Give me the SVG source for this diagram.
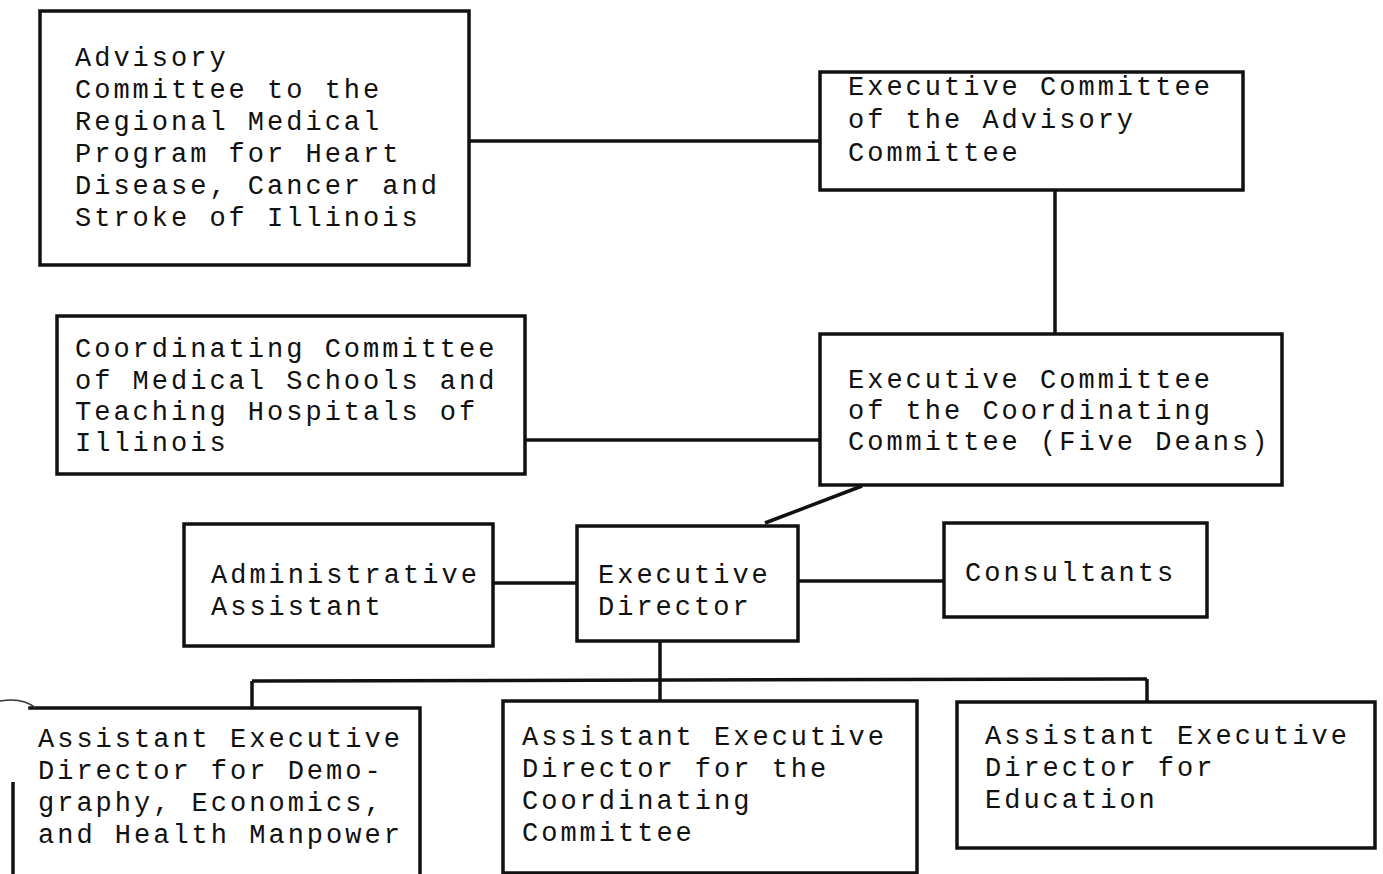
<svg xmlns="http://www.w3.org/2000/svg" width="1383" height="874" viewBox="0 0 1383 874">
<defs>
<style>
.box{fill:none;stroke:#111;stroke-width:3.5;stroke-linecap:square}
.ln{fill:none;stroke:#111;stroke-width:3.5}
.t{font-family:"Liberation Mono","Courier New",monospace;font-size:27px;letter-spacing:3px;fill:#111}
</style>
</defs>
<rect width="1383" height="874" fill="#fff"/>
<g id="connectors">
<line class="ln" x1="469" y1="141" x2="820" y2="141"/>
<line class="ln" x1="1055" y1="190" x2="1055" y2="334"/>
<line class="ln" x1="525" y1="440" x2="820" y2="440"/>
<line class="ln" x1="862" y1="486" x2="765" y2="523"/>
<line class="ln" x1="493" y1="583" x2="577" y2="583"/>
<line class="ln" x1="798" y1="581" x2="944" y2="581"/>
<line class="ln" x1="660" y1="641" x2="660" y2="701"/>
<line class="ln" x1="252" y1="681" x2="1147" y2="679"/>
<line class="ln" x1="252" y1="681" x2="252" y2="708"/>
<line class="ln" x1="1147" y1="679" x2="1147" y2="702"/>
</g>
<g id="advisory">
<rect class="box" x="40" y="11" width="429" height="254"/>
<text class="t" x="75" y="66">Advisory</text>
<text class="t" x="75" y="98">Committee to the</text>
<text class="t" x="75" y="130">Regional Medical</text>
<text class="t" x="75" y="162">Program for Heart</text>
<text class="t" x="75" y="194">Disease, Cancer and</text>
<text class="t" x="75" y="226">Stroke of Illinois</text>
</g>
<g id="exec-advisory">
<rect class="box" x="820" y="72" width="423" height="118"/>
<text class="t" x="848" y="95">Executive Committee</text>
<text class="t" x="848" y="128">of the Advisory</text>
<text class="t" x="848" y="161">Committee</text>
</g>
<g id="coordinating">
<rect class="box" x="57" y="316" width="468" height="158"/>
<text class="t" x="75" y="357">Coordinating Committee</text>
<text class="t" x="75" y="389">of Medical Schools and</text>
<text class="t" x="75" y="420">Teaching Hospitals of</text>
<text class="t" x="75" y="451">Illinois</text>
</g>
<g id="exec-coordinating">
<rect class="box" x="820" y="334" width="462" height="151"/>
<text class="t" x="848" y="388">Executive Committee</text>
<text class="t" x="848" y="419">of the Coordinating</text>
<text class="t" x="848" y="450">Committee (Five Deans)</text>
</g>
<g id="admin-assistant">
<rect class="box" x="184" y="524" width="309" height="122"/>
<text class="t" x="211" y="583">Administrative</text>
<text class="t" x="211" y="615">Assistant</text>
</g>
<g id="executive-director">
<rect class="box" x="577" y="526" width="221" height="115"/>
<text class="t" x="598" y="583">Executive</text>
<text class="t" x="598" y="615">Director</text>
</g>
<g id="consultants">
<rect class="box" x="944" y="523" width="263" height="94"/>
<text class="t" x="965" y="581">Consultants</text>
</g>
<g id="asst-demography">
<path class="box" d="M30,708 H420 V874"/>
<line class="ln" x1="13" y1="782" x2="13" y2="874"/>
<path d="M0,701 Q22,697 36,708" fill="none" stroke="#333" stroke-width="1.5"/>
<text class="t" x="38" y="747">Assistant Executive</text>
<text class="t" x="38" y="779">Director for Demo-</text>
<text class="t" x="38" y="811">graphy, Economics,</text>
<text class="t" x="38" y="843">and Health Manpower</text>
</g>
<g id="asst-coordinating">
<rect class="box" x="503" y="701" width="414" height="172"/>
<text class="t" x="522" y="745">Assistant Executive</text>
<text class="t" x="522" y="777">Director for the</text>
<text class="t" x="522" y="809">Coordinating</text>
<text class="t" x="522" y="841">Committee</text>
</g>
<g id="asst-education">
<rect class="box" x="957" y="702" width="418" height="146"/>
<text class="t" x="985" y="744">Assistant Executive</text>
<text class="t" x="985" y="776">Director for</text>
<text class="t" x="985" y="808">Education</text>
</g>
</svg>
